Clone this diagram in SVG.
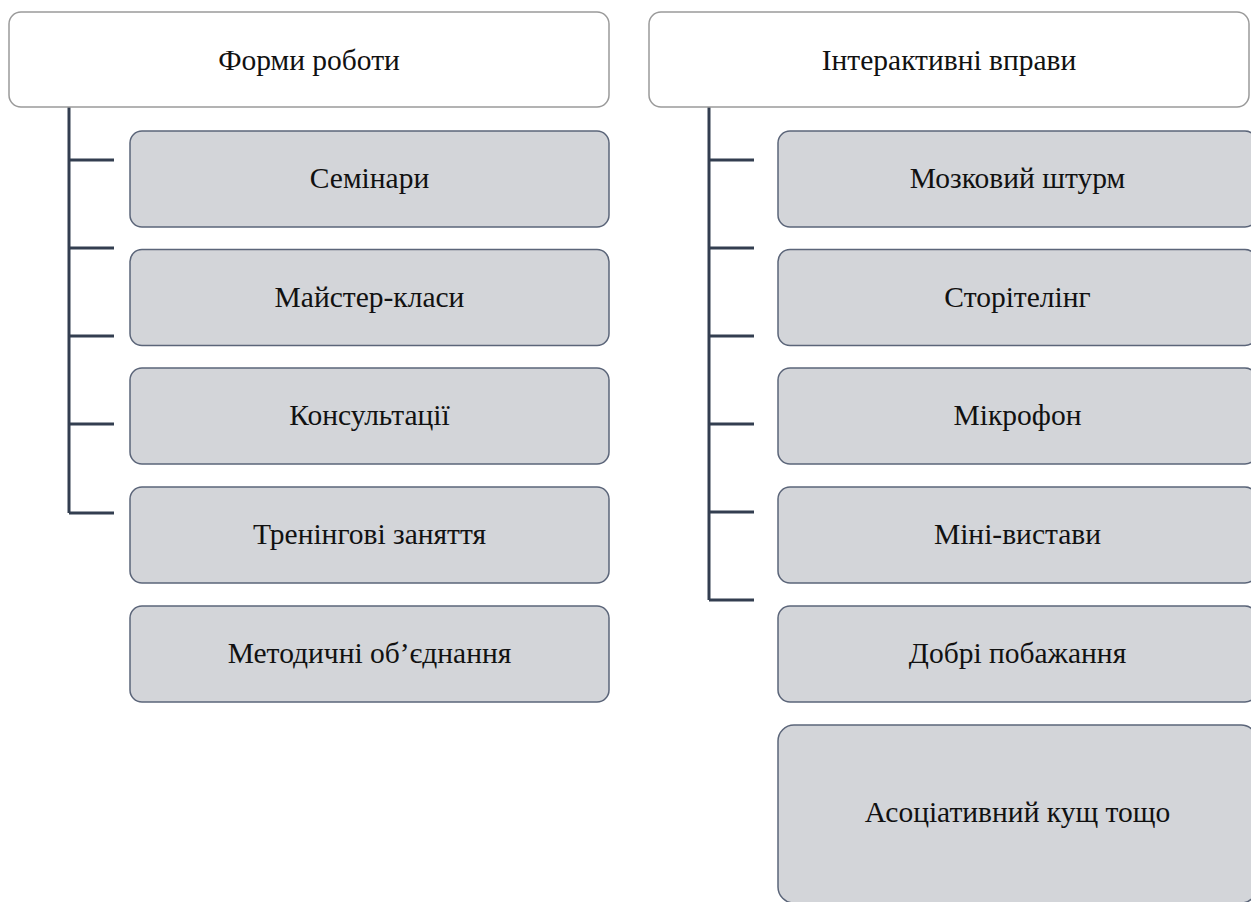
<svg xmlns="http://www.w3.org/2000/svg" width="1251" height="902" viewBox="0 0 1251 902">
  <style>
    .head rect { fill: #ffffff; stroke: #9a9a9a; stroke-width: 1.5; }
    .item rect { fill: #d3d5d9; stroke: #5b6579; stroke-width: 1.5; }
    text { font-family: "Liberation Serif", "Times New Roman", serif; font-size: 29.5px; fill: #111111; text-anchor: middle; }
    #connectors path { fill: none; stroke: #333e50; stroke-width: 3; }
  </style>
  <rect width="1251" height="902" fill="#ffffff"/>

  <!-- tree connectors -->
  <g id="connectors">
    <path d="M69 107 V513 M69 160 H114 M69 248 H114 M69 336 H114 M69 424 H114 M69 513 H114"/>
    <path d="M709 107 V600 M709 160 H754 M709 248 H754 M709 336 H754 M709 424 H754 M709 512 H754 M709 600 H754"/>
  </g>

  <!-- left column -->
  <g id="forms-header" class="head">
    <rect x="9" y="12" width="600" height="95" rx="12"/>
    <text x="309" y="69.5">Форми роботи</text>
  </g>
  <g id="seminars" class="item">
    <rect x="130" y="131" width="479" height="96" rx="12"/>
    <text x="369.5" y="188">Семінари</text>
  </g>
  <g id="masterclasses" class="item">
    <rect x="130" y="249.5" width="479" height="96" rx="12"/>
    <text x="369.5" y="306.5">Майстер-класи</text>
  </g>
  <g id="consultations" class="item">
    <rect x="130" y="368" width="479" height="96" rx="12"/>
    <text x="369.5" y="425">Консультації</text>
  </g>
  <g id="trainings" class="item">
    <rect x="130" y="487" width="479" height="96" rx="12"/>
    <text x="369.5" y="544">Тренінгові заняття</text>
  </g>
  <g id="method-groups" class="item">
    <rect x="130" y="606" width="479" height="96" rx="12"/>
    <text x="369.5" y="663">Методичні об’єднання</text>
  </g>

  <!-- right column -->
  <g id="exercises-header" class="head">
    <rect x="649" y="12" width="600" height="95" rx="12"/>
    <text x="949" y="69.5">Інтерактивні вправи</text>
  </g>
  <g id="brainstorm" class="item">
    <rect x="778" y="131" width="479" height="96" rx="12"/>
    <text x="1017.5" y="188">Мозковий штурм</text>
  </g>
  <g id="storytelling" class="item">
    <rect x="778" y="249.5" width="479" height="96" rx="12"/>
    <text x="1017.5" y="306.5">Сторітелінг</text>
  </g>
  <g id="microphone" class="item">
    <rect x="778" y="368" width="479" height="96" rx="12"/>
    <text x="1017.5" y="425">Мікрофон</text>
  </g>
  <g id="mini-plays" class="item">
    <rect x="778" y="487" width="479" height="96" rx="12"/>
    <text x="1017.5" y="544">Міні-вистави</text>
  </g>
  <g id="good-wishes" class="item">
    <rect x="778" y="606" width="479" height="96" rx="12"/>
    <text x="1017.5" y="663">Добрі побажання</text>
  </g>
  <g id="association-bush" class="item">
    <rect x="778" y="725" width="479" height="178" rx="16"/>
    <text x="1017.5" y="822">Асоціативний кущ тощо</text>
  </g>
</svg>
